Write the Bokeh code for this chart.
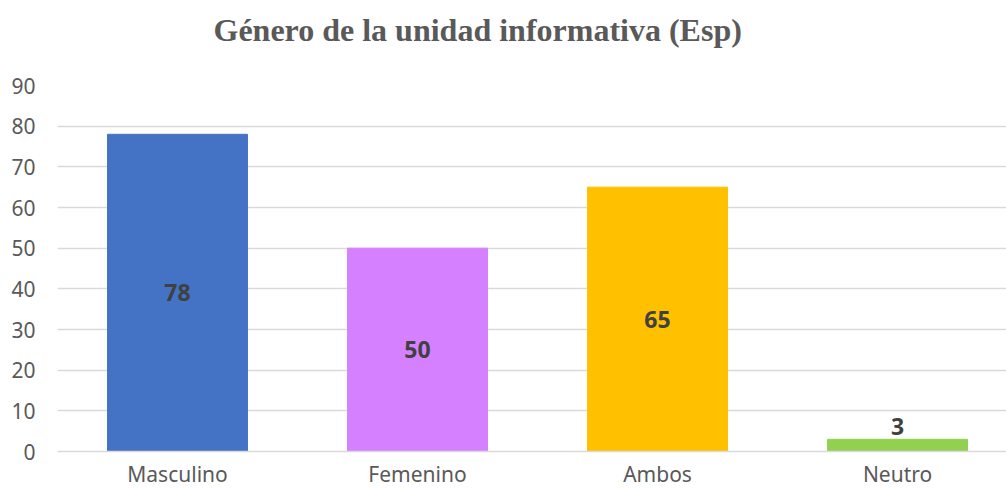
from bokeh.plotting import figure
from bokeh.models import ColumnDataSource, Range1d, FixedTicker, Title
from bokeh.core.properties import value
from bokeh.embed import file_html
from bokeh.resources import INLINE

title_text = "Género de la unidad informativa (Esp)"
categories = ["Masculino", "Femenino", "Ambos", "Neutro"]
counts = [78, 50, 65, 3]
colors = ["#4472C4", "#D580FF", "#FFC000", "#92D050"]
y_ticks = [0, 10, 20, 30, 40, 50, 60, 70, 80, 90]

xs = list(range(len(categories)))
inside = [v >= 10 for v in counts]
src = ColumnDataSource(dict(x=xs, top=counts, color=colors, cat=categories))
src_in = ColumnDataSource(dict(
    x=[x for x, f in zip(xs, inside) if f],
    y=[v / 2 for v, f in zip(counts, inside) if f],
    t=[str(v) for v, f in zip(counts, inside) if f]))
src_out = ColumnDataSource(dict(
    x=[x for x, f in zip(xs, inside) if not f],
    y=[v for v, f in zip(counts, inside) if not f],
    t=[str(v) for v, f in zip(counts, inside) if not f]))

p = figure(width=1006, height=490, output_backend="svg", toolbar_location=None,
           x_range=Range1d(-0.5, 3.454), y_range=Range1d(0, 90),
           min_border_left=57, min_border_right=0, min_border_bottom=39,
           min_border_top=85)
p.outline_line_color = None
p.background_fill_color = "white"
p.border_fill_color = "white"

# spacer between frame and title, then the real title further up
spacer = Title(text=" ", text_font_size="1px", standoff=35)
p.add_layout(spacer, "above")
main_title = Title(text=title_text, text_font="Liberation Serif",
                   text_font_style="bold", text_font_size="32px",
                   text_color="#595959", align="left", offset=156, standoff=0)
p.add_layout(main_title, "above")

p.vbar(x="x", top="top", width=0.583, color="color", source=src)

p.text(x="x", y="y", text="t", source=src_in, text_align="center",
       text_baseline="middle", text_font=value("Noto Sans"),
       text_font_style="bold", text_font_size="23px", text_color="#404040")
p.text(x="x", y="y", text="t", source=src_out, text_align="center",
       text_baseline="bottom", y_offset=-4, text_font=value("Noto Sans"),
       text_font_style="bold", text_font_size="23px", text_color="#404040")

p.xgrid.grid_line_color = None
p.ygrid.grid_line_color = "#D9D9D9"
p.ygrid.grid_line_width = 1.5

p.yaxis.ticker = FixedTicker(ticks=y_ticks)
p.yaxis.axis_line_color = None
p.yaxis.major_tick_line_color = None
p.yaxis.minor_tick_line_color = None
p.yaxis.major_tick_in = 0
p.yaxis.major_tick_out = 0
p.yaxis.major_label_standoff = 22
p.yaxis.major_label_text_font = "Noto Sans"
p.yaxis.major_label_text_font_size = "21px"
p.yaxis.major_label_text_color = "#595959"

p.xaxis.ticker = FixedTicker(ticks=xs)
p.xaxis.major_label_overrides = {i: c for i, c in zip(xs, categories)}
p.xaxis.axis_line_color = "#D9D9D9"
p.xaxis.axis_line_width = 1.5
p.xaxis.major_tick_line_color = None
p.xaxis.minor_tick_line_color = None
p.xaxis.major_tick_in = 0
p.xaxis.major_tick_out = 0
p.xaxis.major_label_standoff = 8
p.xaxis.major_label_text_font = "Noto Sans"
p.xaxis.major_label_text_font_size = "21px"
p.xaxis.major_label_text_color = "#595959"

open("out.html", "w").write(file_html(p, INLINE))
